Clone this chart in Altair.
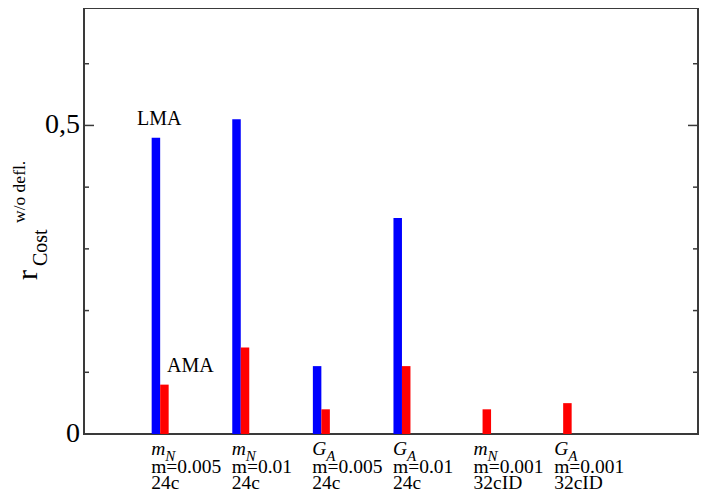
import altair as alt
import pandas as pd

# ---- data ----
groups = [1, 2, 3, 4, 5, 6]
quantity = ["m", "m", "G", "G", "m", "G"]
quantity_sub = ["N", "N", "A", "A", "N", "A"]
mass_labels = ["m=0.005", "m=0.01", "m=0.005", "m=0.01", "m=0.001", "m=0.001"]
lattice_labels = ["24c", "24c", "24c", "24c", "32cID", "32cID"]
lma_values = [0.48, 0.51, 0.11, 0.35, None, None]
ama_values = [0.08, 0.14, 0.04, 0.11, 0.04, 0.05]
major_ticks = [0.0, 0.5]
major_tick_labels = ["0", "0,5"]
minor_ticks = [0.1, 0.2, 0.3, 0.4, 0.6]

W, H = 614, 426
SERIF = "Liberation Serif"
AXC = "#3a3a3a"

xs = alt.Scale(domain=[0.055, 7.673], nice=False, zero=False)
ys = alt.Scale(domain=[0, 0.6903], nice=False, zero=True)

df = pd.DataFrame(dict(g=groups, q=quantity, qs=quantity_sub, mass=mass_labels,
                       lat=lattice_labels, lma=lma_values, ama=ama_values))
base = alt.Chart(df)

X = alt.X("g:Q", scale=xs, axis=None)

blue = base.transform_filter("isValid(datum.lma)").mark_rect(
    color="#0000ff", xOffset=-8.5, x2Offset=0
).encode(
    x=X, x2=alt.X2("g:Q"),
    y=alt.Y("lma:Q", scale=ys, axis=None),
    y2=alt.datum(0),
)

red = base.mark_rect(color="#ff0000", xOffset=0, x2Offset=8.5).encode(
    x=X, x2=alt.X2("g:Q"),
    y=alt.Y("ama:Q", scale=ys, axis=None),
    y2=alt.datum(0),
)

maj = alt.Chart(pd.DataFrame({"v": major_ticks, "lab": major_tick_labels}))
mnr = alt.Chart(pd.DataFrame({"v": minor_ticks}))
tick_style = dict(color=AXC, strokeWidth=1.5)
Yt = alt.Y("v:Q", scale=ys, axis=None)
ticks = [
    maj.mark_rule(**tick_style).encode(y=Yt, x=alt.value(0), x2=alt.value(10)),
    maj.mark_rule(**tick_style).encode(y=Yt, x=alt.value(W - 10), x2=alt.value(W)),
    mnr.mark_rule(**tick_style).encode(y=Yt, x=alt.value(0), x2=alt.value(5)),
    mnr.mark_rule(**tick_style).encode(y=Yt, x=alt.value(W - 5), x2=alt.value(W)),
]
ylabels = maj.mark_text(font=SERIF, fontSize=28, align="right", baseline="middle",
                        color="black").encode(y=Yt, x=alt.value(-4), text="lab:N")

txt = dict(font=SERIF, align="left", baseline="alphabetic", color="black")
lab1 = base.mark_text(fontSize=19.5, fontStyle="italic", dx=-9, **txt).encode(
    x=X, y=alt.value(H + 21), text="q:N")
lab1s = base.mark_text(fontSize=15, fontStyle="italic", dx=5, **txt).encode(
    x=X, y=alt.value(H + 27), text="qs:N")
lab2 = base.mark_text(fontSize=19.5, dx=-9, **txt).encode(
    x=X, y=alt.value(H + 39), text="mass:N")
lab3 = base.mark_text(fontSize=19.5, dx=-9, **txt).encode(
    x=X, y=alt.value(H + 55), text="lat:N")

one = alt.Chart(pd.DataFrame({"k": [0]}))
lma_note = one.mark_text(text="LMA", fontSize=20, **txt).encode(
    x=alt.datum(0.713, scale=xs), y=alt.datum(0.5, scale=ys))
ama_note = one.mark_text(text="AMA", fontSize=20, **txt).encode(
    x=alt.datum(1.085, scale=xs), y=alt.datum(0.1, scale=ys))

ytitle_r = one.mark_text(text="r", fontSize=30, angle=270, **txt).encode(
    x=alt.value(-47), y=alt.value(272))
ytitle_sub = one.mark_text(text="Cost", fontSize=20, angle=270, **txt).encode(
    x=alt.value(-37), y=alt.value(258))
ytitle_sup = one.mark_text(text="w/o defl.", fontSize=17.5, angle=270, **txt).encode(
    x=alt.value(-59), y=alt.value(215))

chart = alt.layer(
    blue, red, *ticks, ylabels, lab1, lab1s, lab2, lab3, lma_note, ama_note,
    ytitle_r, ytitle_sub, ytitle_sup
).properties(
    width=W, height=H,
    autosize=alt.AutoSizeParams(type="none"),
    padding={"left": 76, "top": 0, "right": 2, "bottom": 60},
    background="white",
).configure_view(stroke=AXC, strokeWidth=2, fill="white")

chart.save("out.html", embed_options={"renderer": "svg", "actions": False})
